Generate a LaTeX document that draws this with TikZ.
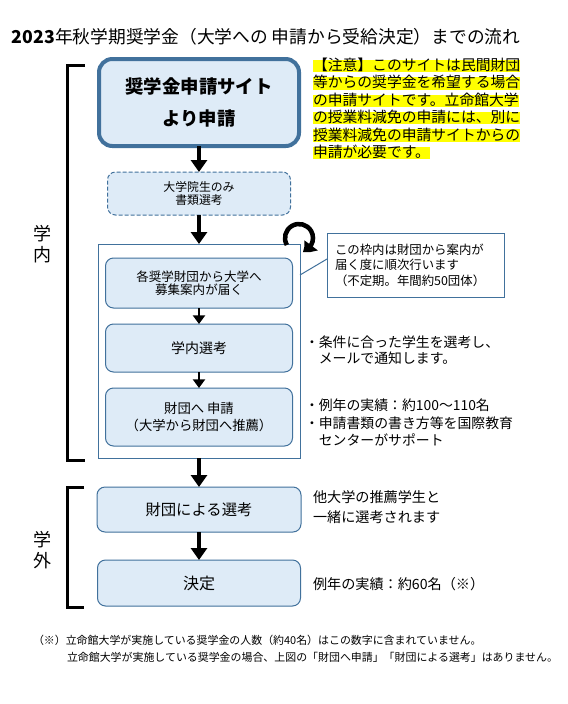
\documentclass[tikz,border=0pt]{standalone}
\usepackage{fontspec}
\setmainfont{Noto Sans CJK JP}
\usetikzlibrary{arrows.meta,bending}
\definecolor{boxfill}{HTML}{DEEBF7}
\definecolor{boxline}{HTML}{41719C}
\definecolor{hlyellow}{HTML}{FFFF00}
\newcommand{\fsz}[2]{\fontsize{#1}{#2}\selectfont}
\begin{document}
\begin{tikzpicture}[x=0.75pt,y=-0.75pt,
  every node/.style={inner sep=0pt,outer sep=0pt},
  flowbox/.style={draw=boxline,line width=0.75pt,fill=boxfill,rounded corners=6pt,align=center},
  bigarrow/.style={line width=3pt,-{Triangle[width=12pt,length=9pt]}},
  smallarrow/.style={line width=2.2pt,-{Triangle[width=9pt,length=6.5pt]}},
  bracket/.style={line width=2.25pt},
  hlline/.style={fill=hlyellow,anchor=west,inner xsep=0pt,text height=8pt,text depth=1.4pt,font=\fsz{11.1pt}{13pt}},
  sidetext/.style={anchor=west,align=left},
  ]
\fill[white] (0,0) rectangle (568,704);
\useasboundingbox (0,0) rectangle (568,704);

% title
\node[anchor=west,font=\fsz{13.3pt}{16pt}] (title) at (12,37) {\textbf{2023}年秋学期奨学金（大学への 申請から受給決定）までの流れ};

% frame
\node[draw=boxline,line width=0.75pt,minimum width=151.5pt,minimum height=160.5pt] (frame) at (199,351) {};

% boxes
\node[flowbox,line width=3pt,rounded corners=10pt,minimum width=150pt,minimum height=65.25pt,font=\fsz{13.8pt}{24pt}\bfseries] (site) at (199,102.5) {奨学金申請サイト\\より申請};
\node[flowbox,dash pattern=on 3pt off 1.5pt,minimum width=137.25pt,minimum height=32.25pt,font=\fsz{8.9pt}{9.8pt}] (grad) at (199,193.5) {大学院生のみ\\書類選考};
\node[flowbox,minimum width=140.25pt,minimum height=37.5pt,font=\fsz{9.4pt}{10pt}] (notice) at (199,283) {各奨学財団から大学へ\\募集案内が届く};
\node[flowbox,minimum width=140.25pt,minimum height=36pt,font=\fsz{10.5pt}{12pt}] (internal) at (199,348) {学内選考};
\node[flowbox,minimum width=140.25pt,minimum height=43.5pt,font=\fsz{10pt}{12.75pt}] (apply) at (199,417) {財団へ 申請\\（大学から財団へ推薦）};
\node[flowbox,minimum width=153pt,minimum height=33.75pt,font=\fsz{11.5pt}{13pt}] (found) at (199,509.5) {財団による選考};
\node[flowbox,minimum width=152.25pt,minimum height=34.5pt,font=\fsz{12pt}{14pt}] (decide) at (199,583) {決定};

% arrows
\draw[bigarrow] (site.south) -- (grad.north);
\draw[bigarrow] (grad.south) -- (frame.north);
\draw[smallarrow] (notice.south) -- (internal.north);
\draw[smallarrow] (internal.south) -- (apply.north);
\draw[bigarrow] (frame.south) -- (found.north);
\draw[bigarrow] (found.south) -- (decide.north);

% loop arrow
\coordinate (loop) at (299,238);
\draw[line width=3.4pt,-{Triangle[width=12pt,length=8pt,bend]}] ([shift={(210:10.5pt)}]loop) arc[start angle=210,end angle=-75,radius=10.5pt];

% brackets
\coordinate (inA) at (85,65); \coordinate (inB) at (85,460);
\draw[bracket] (inA) -| (67,460) -- (inB);
\coordinate (outA) at (84,487); \coordinate (outB) at (84,607);
\draw[bracket] (outA) -| (67,607) -- (outB);
\node[align=center,font=\fsz{13.5pt}{15.5pt}] (inlabel) at (42,244) {学\\内};
\node[align=center,font=\fsz{13.5pt}{15.5pt}] (outlabel) at (42,550) {学\\外};

% note with highlight
\node[hlline] (n1) at (313,66) {【注意】このサイトは民間財団};
\node[hlline] (n2) at (313,83.4) {等からの奨学金を希望する場合};
\node[hlline] (n3) at (313,100.8) {の申請サイトです。立命館大学};
\node[hlline] (n4) at (313,118.2) {の授業料減免の申請には、別に};
\node[hlline] (n5) at (313,135.6) {授業料減免の申請サイトからの};
\node[hlline] (n6) at (313,153) {申請が必要です。};

% callout
\node[draw=boxline,line width=0.75pt,minimum width=132.75pt,minimum height=48pt,text width=120.75pt,align=left,inner xsep=6pt,font=\fsz{9.3pt}{11.6pt}] (callout) at (415.5,265) {この枠内は財団から案内が\\届く度に順次行います\\（不定期。年間約50団体）};
\coordinate (fpt) at (300,275);
\draw[boxline,line width=0.75pt] ([yshift=4.5pt]callout.west) -- (fpt);

% side texts
\node[sidetext,font=\fsz{10.4pt}{12pt}] (cond) at (305,350) {・条件に合った学生を選考し、\\\hspace*{1em}メールで通知します。};
\node[sidetext,font=\fsz{10.4pt}{13.1pt}] (record) at (305,422.5) {・例年の実績：約100～110名\\・申請書類の書き方等を国際教育\\\hspace*{1em}センターがサポート};
\node[sidetext,font=\fsz{10.6pt}{15pt}] (other) at (313,507.5) {他大学の推薦学生と\\一緒に選考されます};
\node[sidetext,font=\fsz{10.6pt}{13pt}] (result) at (313,584) {例年の実績：約60名（※）};

% footnote
\node[anchor=west,font=\fsz{8.2pt}{10pt}] (fn1) at (33,640) {（※）立命館大学が実施している奨学金の人数（約40名）はこの数字に含まれていません。};
\node[anchor=west,font=\fsz{8.2pt}{10pt}] (fn2) at (67,657) {立命館大学が実施している奨学金の場合、上図の「財団へ申請」「財団による選考」はありません。};
\end{tikzpicture}
\end{document}
